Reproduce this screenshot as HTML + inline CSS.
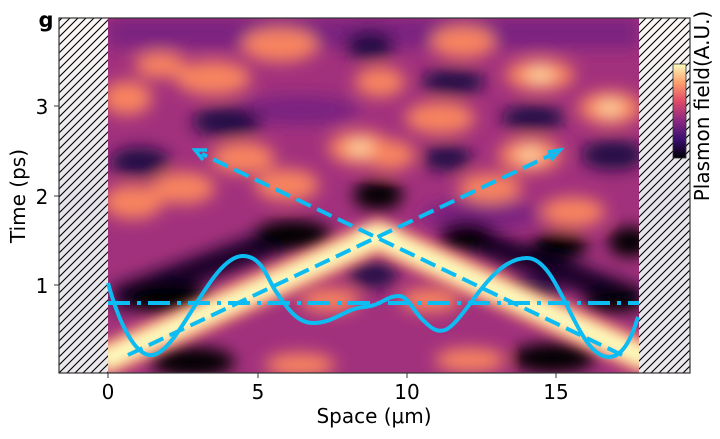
<!DOCTYPE html>
<html><head><meta charset="utf-8"><style>
html,body{margin:0;padding:0;background:#fff;}
svg{display:block;font-family:"DejaVu Sans","Liberation Sans",sans-serif;}
</style></head><body>
<svg width="720" height="439" viewBox="0 0 720 439" xmlns="http://www.w3.org/2000/svg">
<defs>
<filter id="b" x="-20%" y="-20%" width="140%" height="140%"><feGaussianBlur stdDeviation="8"/></filter>
<filter id="b2" x="-20%" y="-20%" width="140%" height="140%"><feGaussianBlur stdDeviation="6"/></filter>
<clipPath id="cp"><rect x="108" y="18" width="531" height="355"/></clipPath>
<pattern id="h" width="8" height="8" patternUnits="userSpaceOnUse">
<path d="M-2,10 L10,-2 M-2,2 L2,-2 M6,10 L10,6" stroke="#000" stroke-width="1.1"/>
</pattern>
<linearGradient id="hg" x1="0" y1="0" x2="0" y2="1"><stop offset="0" stop-color="#fbf7f5"/><stop offset="0.5" stop-color="#e6e4ea"/><stop offset="1" stop-color="#ebe8ec"/></linearGradient>
<linearGradient id="cb" x1="0" y1="0" x2="0" y2="1">
<stop offset="0" stop-color="#fcfdbf"/><stop offset="0.2" stop-color="#fe9f6d"/><stop offset="0.4" stop-color="#de4968"/><stop offset="0.6" stop-color="#8c2981"/><stop offset="0.8" stop-color="#3b0f70"/><stop offset="1" stop-color="#000004"/>
</linearGradient>
</defs>
<rect x="59" y="18" width="49" height="355" fill="url(#hg)"/>
<rect x="59" y="18" width="49" height="355" fill="url(#h)"/>
<rect x="639" y="18" width="51" height="355" fill="url(#hg)"/>
<rect x="639" y="18" width="51" height="355" fill="url(#h)"/>
<g clip-path="url(#cp)">
<rect x="108" y="18" width="531" height="355" fill="#a2317d"/>
<g filter="url(#b)">
<g fill="#7a2480">
<rect x="108" y="18" width="531" height="30"/>
<ellipse cx="300" cy="110" rx="60" ry="15"/><ellipse cx="480" cy="215" rx="60" ry="15"/>
</g>
<g fill="#f8845f">
<ellipse cx="213" cy="78" rx="38" ry="17"/><ellipse cx="280" cy="45" rx="38" ry="17"/>
<ellipse cx="133" cy="202" rx="30" ry="17"/><ellipse cx="183" cy="188" rx="32" ry="16"/>
<ellipse cx="243" cy="158" rx="32" ry="16"/><ellipse cx="287" cy="185" rx="32" ry="16"/>
<ellipse cx="360" cy="148" rx="32" ry="17"/><ellipse cx="127" cy="98" rx="25" ry="17"/>
<ellipse cx="463" cy="42" rx="32" ry="16"/><ellipse cx="540" cy="75" rx="35" ry="16"/>
<ellipse cx="610" cy="108" rx="32" ry="17"/><ellipse cx="440" cy="118" rx="35" ry="16"/>
<ellipse cx="380" cy="82" rx="25" ry="15"/><ellipse cx="530" cy="155" rx="32" ry="17"/>
<ellipse cx="390" cy="155" rx="25" ry="15"/><ellipse cx="573" cy="212" rx="32" ry="15"/>
<ellipse cx="490" cy="188" rx="32" ry="15"/><ellipse cx="160" cy="65" rx="25" ry="13"/>
<ellipse cx="300" cy="365" rx="35" ry="12"/><ellipse cx="470" cy="360" rx="35" ry="12"/>
<ellipse cx="330" cy="300" rx="30" ry="12"/><ellipse cx="430" cy="300" rx="30" ry="12"/>
</g>
<g fill="#fcd3a0">
<ellipse cx="540" cy="75" rx="15" ry="8"/><ellipse cx="610" cy="108" rx="14" ry="8"/>
<ellipse cx="530" cy="155" rx="14" ry="8"/><ellipse cx="360" cy="148" rx="14" ry="8"/>
</g>
<g fill="#200c45">
<ellipse cx="140" cy="162" rx="30" ry="15"/><ellipse cx="227" cy="122" rx="35" ry="15"/>
<ellipse cx="370" cy="45" rx="25" ry="15"/>
<ellipse cx="453" cy="82" rx="32" ry="13"/><ellipse cx="533" cy="118" rx="32" ry="13"/>
<ellipse cx="613" cy="155" rx="32" ry="15"/><ellipse cx="447" cy="158" rx="25" ry="13"/>
<ellipse cx="530" cy="292" rx="28" ry="13"/><ellipse cx="373" cy="275" rx="25" ry="13"/>
</g>
<path d="M115,300 L300,232" stroke="#120628" stroke-width="26" fill="none"/>
<path d="M455,232 L638,300" stroke="#120628" stroke-width="26" fill="none"/>
<g fill="#000004">
<ellipse cx="378" cy="195" rx="25" ry="15"/>
<ellipse cx="467" cy="235" rx="28" ry="15"/><ellipse cx="560" cy="245" rx="28" ry="13"/>
<ellipse cx="630" cy="242" rx="22" ry="15"/><ellipse cx="293" cy="235" rx="38" ry="15"/>
<ellipse cx="167" cy="298" rx="42" ry="15"/><ellipse cx="193" cy="362" rx="42" ry="15"/>
<ellipse cx="553" cy="358" rx="42" ry="15"/><ellipse cx="615" cy="300" rx="30" ry="12"/>
</g>
</g>
<g filter="url(#b2)">
<path d="M100,362 L378,236 L650,360" fill="none" stroke="#fd9a6a" stroke-width="34"/>
<path d="M100,362 L378,236 L650,360" fill="none" stroke="#fcfdbf" stroke-width="18"/>
<ellipse cx="378" cy="236" rx="22" ry="10" fill="#fcfdbf"/>
</g>
</g>
<g fill="none" stroke="#0cbcf2" stroke-width="4">
<line x1="108" y1="303" x2="639" y2="303" stroke-dasharray="22,7,4,7"/>
<line x1="128" y1="355" x2="553" y2="154" stroke-dasharray="16,7"/>
<line x1="622" y1="355" x2="202" y2="154" stroke-dasharray="16,7"/>
<path d="M548,152 L560,150 L551,160" stroke-width="3.5"/>
<path d="M207,150 L195,150 L203,160" stroke-width="3.5"/>
<path d="M108,283 C118,320 135,358 153,355 C180,350 210,258 242,256 C262,255 268,280 275,290 C288,310 298,323 313,323 C335,323 345,308 365,307 C380,306 388,295 400,296 C410,298 413,312 425,322 C433,330 438,332 445,330 C465,322 490,258 527,258 C560,258 575,355 608,357 C625,358 634,330 638,317" stroke-width="4"/>
</g>
<rect x="59" y="18" width="631" height="355" fill="none" stroke="#333" stroke-width="1.2"/>
<g stroke="#333" stroke-width="1">
<line x1="108" y1="373" x2="108" y2="378"/><line x1="258" y1="373" x2="258" y2="378"/>
<line x1="407" y1="373" x2="407" y2="378"/><line x1="556" y1="373" x2="556" y2="378"/>
<line x1="54" y1="285" x2="59" y2="285"/><line x1="54" y1="196" x2="59" y2="196"/><line x1="54" y1="106" x2="59" y2="106"/>
</g>
<g font-size="20" fill="#000" text-anchor="middle">
<text x="108" y="399">0</text><text x="258" y="399">5</text><text x="407" y="399">10</text><text x="556" y="399">15</text>
<text x="42" y="293">1</text><text x="42" y="204">2</text><text x="42" y="114">3</text>
<text x="374" y="423">Space (μm)</text>
<text transform="translate(25,196) rotate(-90)">Time (ps)</text>
</g>
<text x="46" y="27" font-size="21" font-weight="bold" text-anchor="middle">g</text>
<rect x="673" y="64" width="13" height="94" fill="url(#cb)" stroke="#333" stroke-width="0.8"/>
<text transform="translate(709,106) rotate(-90)" font-size="20" text-anchor="middle">Plasmon field(A.U.)</text>
</svg>
</body></html>
